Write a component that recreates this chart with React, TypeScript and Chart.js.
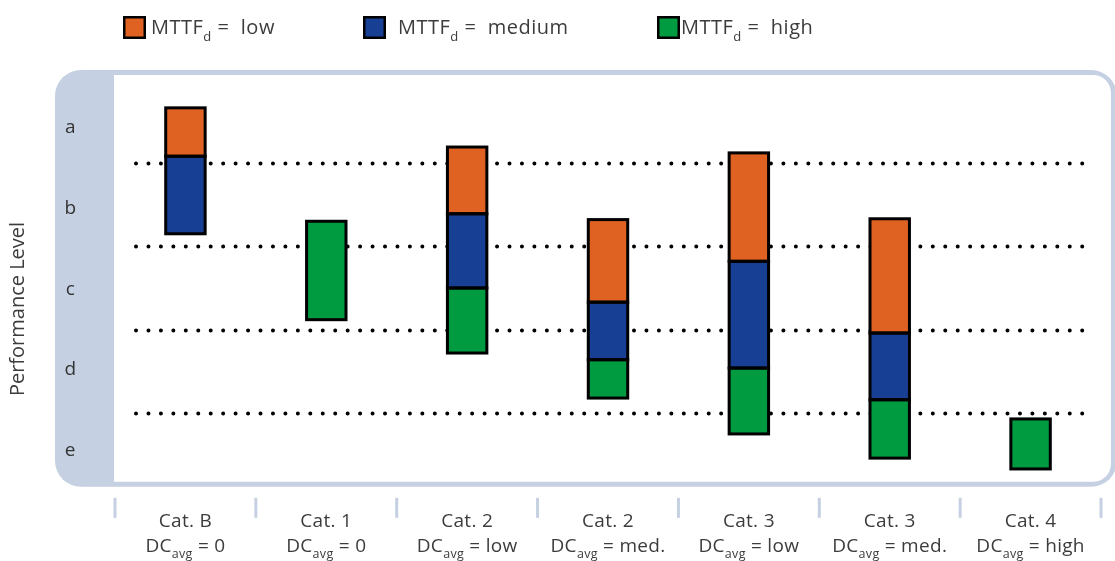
import { useEffect, useRef } from 'react';
import { Chart, registerables } from 'chart.js';

Chart.register(...registerables);

// ---- data ----
const categories = ['Cat. B', 'Cat. 1', 'Cat. 2', 'Cat. 2', 'Cat. 3', 'Cat. 3', 'Cat. 4'];
const dcValues = ['0', '0', 'low', 'med.', 'low', 'med.', 'high'];
const levels = ['a', 'b', 'c', 'd', 'e'];
const levelTickValues = [4.42, 3.45, 2.48, 1.52, 0.55];
const levelBoundaries = [1, 2, 3, 4];
const seriesNames = ['low', 'medium', 'high'];
const seriesColors = ['#e06222', '#173f93', '#009a40'];
const lowRanges: ([number, number] | null)[] = [[4.08, 4.66], null, [3.39, 4.19], [2.33, 3.32], [2.82, 4.12], [1.96, 3.33], null];
const mediumRanges: ([number, number] | null)[] = [[3.15, 4.08], null, [2.50, 3.39], [1.64, 2.33], [1.54, 2.82], [1.16, 1.96], null];
const highRanges: ([number, number] | null)[] = [null, [2.12, 3.30], [1.72, 2.50], [1.18, 1.64], [0.75, 1.54], [0.46, 1.16], [0.33, 0.93]];

const FONT = '"Open Sans", "Noto Sans", sans-serif';
const TEXT = '#3c3c3c';
const BAND = '#c5d0e2';

type Part = { text: string; sub?: boolean };

function drawRich(ctx: CanvasRenderingContext2D, parts: Part[], x: number, baseline: number, center: boolean, mainSize: number, subSize: number, subDrop: number) {
  const mainFont = `${mainSize}px ${FONT}`;
  const subFont = `${subSize}px ${FONT}`;
  const widths = parts.map((p) => {
    ctx.font = p.sub ? subFont : mainFont;
    return ctx.measureText(p.text).width;
  });
  const total = widths.reduce((s, w) => s + w, 0);
  let cx = center ? x - total / 2 : x;
  ctx.textAlign = 'left';
  ctx.textBaseline = 'alphabetic';
  parts.forEach((p, i) => {
    ctx.font = p.sub ? subFont : mainFont;
    ctx.fillText(p.text, cx, baseline + (p.sub ? subDrop : 0));
    cx += widths[i];
  });
}

const framePlugin = {
  id: 'frame',
  beforeDraw(chart: any) {
    const { ctx, chartArea: a } = chart;
    ctx.save();
    ctx.fillStyle = BAND;
    ctx.beginPath();
    ctx.roundRect(a.left - 60, a.top - 9.5, a.right + 16 - (a.left - 60), a.bottom + 7 - (a.top - 9.5), 26);
    ctx.fill();
    ctx.fillStyle = '#ffffff';
    ctx.beginPath();
    ctx.roundRect(a.left - 1, a.top - 4.5, a.right + 10 - (a.left - 1), a.bottom + 2 - (a.top - 4.5), [0, 18, 18, 0]);
    ctx.fill();
    ctx.restore();
  },
  beforeDatasetsDraw(chart: any) {
    const { ctx, chartArea: a } = chart;
    const y = chart.scales.y;
    ctx.save();
    ctx.strokeStyle = '#000';
    ctx.lineWidth = 4;
    ctx.lineCap = 'round';
    ctx.setLineDash([0, 12.45]);
    levelBoundaries.forEach((b) => {
      const py = Math.round(y.getPixelForValue(b)) + 0.5;
      ctx.beginPath();
      ctx.moveTo(a.left + 21, py);
      ctx.lineTo(a.right - 15, py);
      ctx.stroke();
    });
    ctx.restore();
  },
  afterDatasetsDraw(chart: any) {
    const { ctx } = chart;
    ctx.save();
    ctx.strokeStyle = '#000';
    ctx.lineWidth = 3;
    ctx.lineJoin = 'miter';
    chart.data.datasets.forEach((_: any, di: number) => {
      const meta = chart.getDatasetMeta(di);
      meta.data.forEach((el: any, idx: number) => {
        if (!chart.data.datasets[di].data[idx]) return;
        const p = el.getProps(['x', 'y', 'base', 'width'], true);
        const top = Math.min(p.y, p.base);
        const h = Math.abs(p.base - p.y);
        ctx.strokeRect(p.x - p.width / 2, top, p.width, h);
      });
    });
    ctx.restore();
  },
  afterDraw(chart: any) {
    const { ctx, chartArea: a } = chart;
    const x = chart.scales.x;
    ctx.save();
    // x tick marks between categories
    ctx.strokeStyle = BAND;
    ctx.lineWidth = 3;
    for (let i = 0; i <= categories.length; i++) {
      const px = x.getPixelForValue(i - 0.5);
      ctx.beginPath();
      ctx.moveTo(px, a.bottom + 18);
      ctx.lineTo(px, a.bottom + 38);
      ctx.stroke();
    }
    // x labels
    ctx.fillStyle = TEXT;
    (ctx as any).letterSpacing = '0.3px';
    categories.forEach((c, i) => {
      const px = x.getPixelForValue(i);
      drawRich(ctx, [{ text: c }], px, a.bottom + 47, true, 19, 12.5, 0);
      drawRich(ctx, [{ text: 'DC' }, { text: 'avg', sub: true }, { text: ' = ' + dcValues[i] }], px, a.bottom + 72, true, 19, 12.5, 6);
    });
    // legend
    const boxX = [123, 363, 657];
    const textX = [151, 398, 681];
    seriesNames.forEach((n, i) => {
      (ctx as any).letterSpacing = '0px';
      ctx.fillStyle = '#000';
      ctx.fillRect(boxX[i], 16, 23, 23);
      ctx.fillStyle = seriesColors[i];
      ctx.fillRect(boxX[i] + 2.5, 18.5, 18, 18);
      ctx.fillStyle = TEXT;
      (ctx as any).letterSpacing = '0.5px';
      drawRich(ctx, [{ text: 'MTTF' }, { text: 'd', sub: true }, { text: ' =  ' + n }], textX[i], 34, false, 20, 13, 7);
    });
    // y title
    (ctx as any).letterSpacing = '0px';
    ctx.translate(18.5, 309);
    ctx.rotate(-Math.PI / 2);
    ctx.font = `20px ${FONT}`;
    ctx.textAlign = 'center';
    ctx.textBaseline = 'middle';
    ctx.fillText('Performance Level', 0, 0);
    ctx.restore();
  },
};

function makeDataset(i: number, data: ([number, number] | null)[]) {
  return {
    label: 'MTTFd = ' + seriesNames[i],
    data,
    backgroundColor: seriesColors[i],
    borderWidth: 0,
    inflateAmount: 0,
    grouped: false,
    barPercentage: 0.28,
    categoryPercentage: 1,
  };
}

export default function App() {
  const ref = useRef<HTMLCanvasElement | null>(null);
  useEffect(() => {
    if (!ref.current) return;
    const chart = new Chart(ref.current, {
      type: 'bar',
      data: {
        labels: categories,
        datasets: [makeDataset(0, lowRanges), makeDataset(1, mediumRanges), makeDataset(2, highRanges)] as any,
      },
      options: {
        animation: false,
        responsive: true,
        maintainAspectRatio: false,
        layout: { padding: { top: 79.5, right: 14, left: 0, bottom: 0 } },
        plugins: { legend: { display: false }, tooltip: { enabled: false } },
        scales: {
          x: {
            ticks: { display: false },
            grid: { display: false },
            border: { display: false },
            afterFit: (s: any) => { s.height = 81.2; },
          },
          y: {
            min: 0.2,
            max: 5.0,
            grid: { display: false, drawTicks: false },
            border: { display: false },
            afterBuildTicks: (s: any) => { s.ticks = levelTickValues.map((v) => ({ value: v })); },
            ticks: {
              padding: 39,
              crossAlign: 'center',
              color: '#333333',
              font: { family: FONT, size: 19 },
              callback: (v: any) => {
                const idx = levelTickValues.indexOf(Number(v));
                return idx >= 0 ? levels[idx] : '';
              },
            },
            afterFit: (s: any) => { s.width = 115; },
          },
        },
      },
      plugins: [framePlugin],
    });
    return () => chart.destroy();
  }, []);
  return (
    <div style={{ position: 'fixed', left: 0, top: 0, width: 1115, height: 561, background: '#fff' }}>
      <canvas ref={ref} />
    </div>
  );
}
